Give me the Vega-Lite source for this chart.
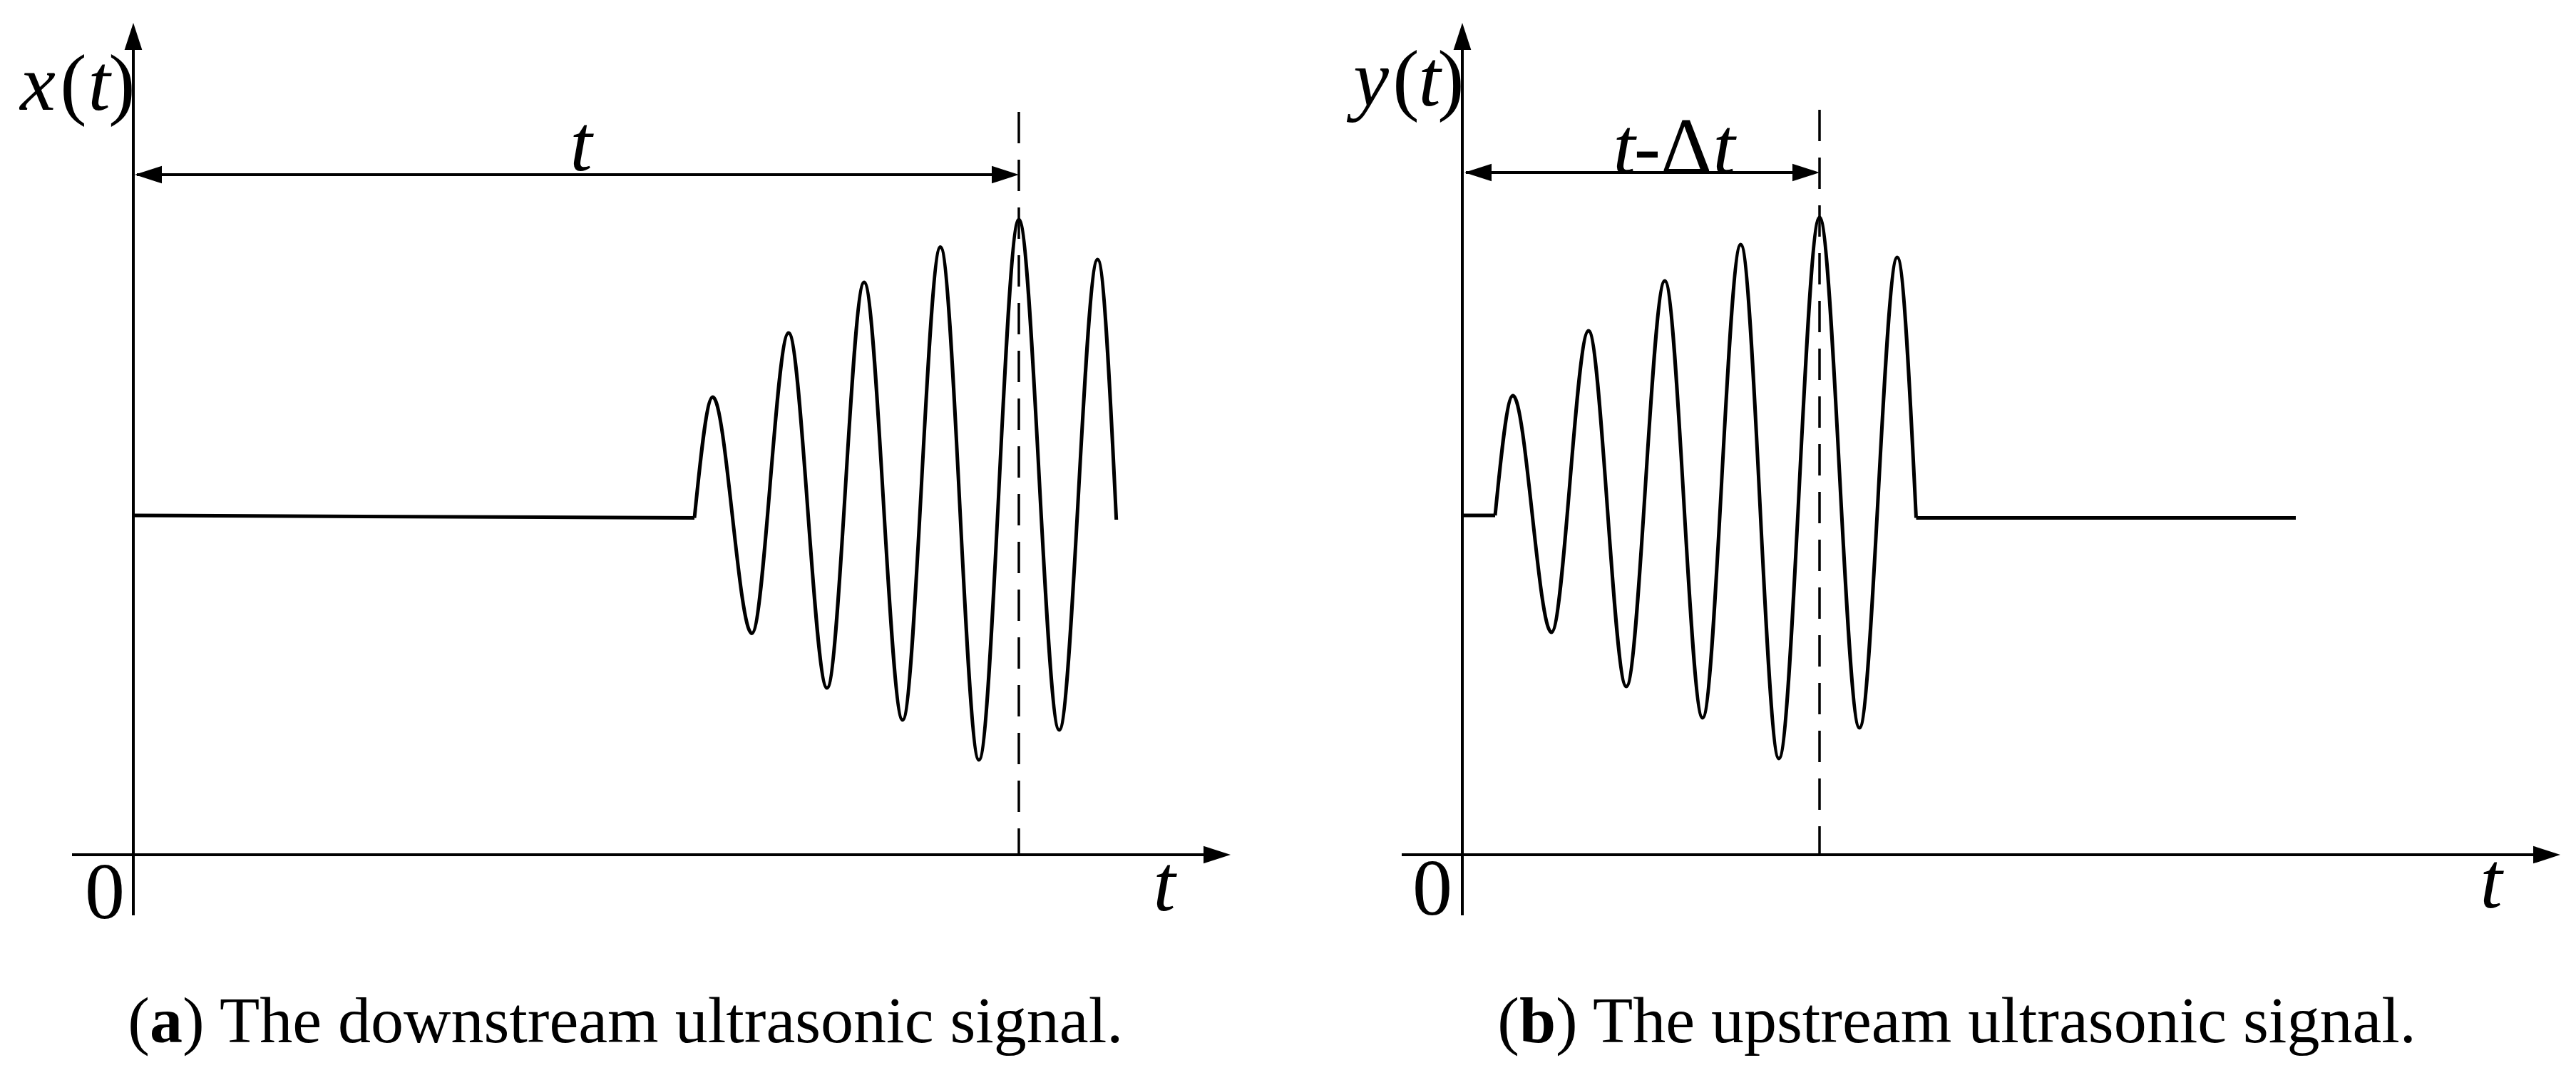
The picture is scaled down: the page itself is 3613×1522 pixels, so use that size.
{
  "$schema": "https://vega.github.io/schema/vega-lite/v6.json",
  "padding": 0,
  "background": "white",
  "spacing": 115,
  "bounds": "flush",
  "config": {"view": {"stroke": null}},
  "data": {
    "values": [
      {"panel": "a", "kind": "base", "s": "a1", "t": 0, "a": 47.6},
      {"panel": "a", "kind": "base", "s": "a1", "t": 78.7, "a": 47.25},
      {"panel": "a", "kind": "wave", "s": "aw", "t": 78.7, "a": 47.25},
      {"panel": "a", "kind": "wave", "s": "aw", "t": 81.27, "a": 64.2},
      {"panel": "a", "kind": "wave", "s": "aw", "t": 86.75, "a": 31.05},
      {"panel": "a", "kind": "wave", "s": "aw", "t": 91.9, "a": 73.2},
      {"panel": "a", "kind": "wave", "s": "aw", "t": 97.3, "a": 23.4},
      {"panel": "a", "kind": "wave", "s": "aw", "t": 102.5, "a": 80.3},
      {"panel": "a", "kind": "wave", "s": "aw", "t": 107.9, "a": 18.9},
      {"panel": "a", "kind": "wave", "s": "aw", "t": 113.2, "a": 85.25},
      {"panel": "a", "kind": "wave", "s": "aw", "t": 118.6, "a": 13.3},
      {"panel": "a", "kind": "wave", "s": "aw", "t": 124.2, "a": 89.1},
      {"panel": "a", "kind": "wave", "s": "aw", "t": 129.86, "a": 17.5},
      {"panel": "a", "kind": "wave", "s": "aw", "t": 135.25, "a": 83.5},
      {"panel": "a", "kind": "wave", "s": "aw", "t": 137.87, "a": 47.0},

      {"panel": "b", "kind": "base", "s": "b1", "t": 0, "a": 47.6},
      {"panel": "b", "kind": "base", "s": "b1", "t": 4.6, "a": 47.6},
      {"panel": "b", "kind": "wave", "s": "bw", "t": 4.6, "a": 47.6},
      {"panel": "b", "kind": "wave", "s": "bw", "t": 7.1, "a": 64.4},
      {"panel": "b", "kind": "wave", "s": "bw", "t": 12.5, "a": 31.2},
      {"panel": "b", "kind": "wave", "s": "bw", "t": 17.7, "a": 73.5},
      {"panel": "b", "kind": "wave", "s": "bw", "t": 23.0, "a": 23.6},
      {"panel": "b", "kind": "wave", "s": "bw", "t": 28.4, "a": 80.5},
      {"panel": "b", "kind": "wave", "s": "bw", "t": 33.7, "a": 19.2},
      {"panel": "b", "kind": "wave", "s": "bw", "t": 39.05, "a": 85.6},
      {"panel": "b", "kind": "wave", "s": "bw", "t": 44.4, "a": 13.5},
      {"panel": "b", "kind": "wave", "s": "bw", "t": 50.1, "a": 89.4},
      {"panel": "b", "kind": "wave", "s": "bw", "t": 55.7, "a": 17.8},
      {"panel": "b", "kind": "wave", "s": "bw", "t": 61.0, "a": 83.8},
      {"panel": "b", "kind": "wave", "s": "bw", "t": 63.65, "a": 47.25},
      {"panel": "b", "kind": "base", "s": "b2", "t": 63.65, "a": 47.25},
      {"panel": "b", "kind": "base", "s": "b2", "t": 116.9, "a": 47.25},

      {"panel": "a", "kind": "axis", "t": 0, "t2": 0, "a": -8.5, "a2": 114.5},
      {"panel": "a", "kind": "axis", "t": -8.6, "t2": 152, "a": 0, "a2": 0},
      {"panel": "b", "kind": "axis", "t": 0, "t2": 0, "a": -8.5, "a2": 114.5},
      {"panel": "b", "kind": "axis", "t": -8.5, "t2": 152, "a": 0, "a2": 0},
      {"panel": "a", "kind": "dim", "t": 0.5, "t2": 122.5, "a": 95.4, "a2": 95.4},
      {"panel": "b", "kind": "dim", "t": 0.5, "t2": 48.5, "a": 95.7, "a2": 95.7},
      {"panel": "a", "kind": "dash", "t": 124.2, "t2": 124.2, "a": 104.2, "a2": 0},
      {"panel": "b", "kind": "dash", "t": 50.1, "t2": 50.1, "a": 104.5, "a2": 0},

      {"panel": "a", "kind": "arrow", "dir": "up", "t": 0, "a": 116.7},
      {"panel": "a", "kind": "arrow", "dir": "right", "t": 153.9, "a": 0},
      {"panel": "a", "kind": "arrow", "dir": "left", "t": 0.2, "a": 95.4},
      {"panel": "a", "kind": "arrow", "dir": "right", "t": 124.2, "a": 95.4},
      {"panel": "b", "kind": "arrow", "dir": "up", "t": 0, "a": 116.7},
      {"panel": "b", "kind": "arrow", "dir": "right", "t": 154.0, "a": 0},
      {"panel": "b", "kind": "arrow", "dir": "left", "t": 0.3, "a": 95.7},
      {"panel": "b", "kind": "arrow", "dir": "right", "t": 50.1, "a": 95.7},

      {"panel": "a", "kind": "it", "label": "x", "t": -13.4, "a": 104.5},
      {"panel": "a", "kind": "up", "label": "(", "t": -8.4, "a": 104.5},
      {"panel": "a", "kind": "it", "label": "t", "t": -4.8, "a": 104.5},
      {"panel": "a", "kind": "up", "label": ")", "t": -1.6, "a": 104.5},
      {"panel": "a", "kind": "it", "label": "t", "t": 62.8, "a": 96.0},
      {"panel": "a", "kind": "up", "label": "0", "t": -4.0, "a": -8.9},
      {"panel": "a", "kind": "it", "label": "t", "t": 144.6, "a": -7.8},

      {"panel": "b", "kind": "it", "label": "y", "t": -12.8, "a": 105.1},
      {"panel": "b", "kind": "up", "label": "(", "t": -7.9, "a": 105.1},
      {"panel": "b", "kind": "it", "label": "t", "t": -4.6, "a": 105.1},
      {"panel": "b", "kind": "up", "label": ")", "t": -1.6, "a": 105.1},
      {"panel": "b", "kind": "it", "label": "t", "t": 22.7, "a": 95.6},
      {"panel": "b", "kind": "up", "label": "-Δ", "t": 29.55, "a": 95.6},
      {"panel": "b", "kind": "it", "label": "t", "t": 36.7, "a": 95.6},
      {"panel": "b", "kind": "up", "label": "0", "t": -4.2, "a": -8.4},
      {"panel": "b", "kind": "it", "label": "t", "t": 144.3, "a": -7.4},

      {"panel": "a", "kind": "cap_open", "label": "(", "t": 2.3, "a": -26.3},
      {"panel": "a", "kind": "cap_bold", "label": "a", "t": 2.3, "a": -26.3},
      {"panel": "a", "kind": "cap_rest", "label": ") The downstream ultrasonic signal.", "t": 6.9, "a": -26.3},
      {"panel": "b", "kind": "cap_open", "label": "(", "t": 8.0, "a": -26.3},
      {"panel": "b", "kind": "cap_bold", "label": "b", "t": 8.0, "a": -26.3},
      {"panel": "b", "kind": "cap_rest", "label": ") The upstream ultrasonic signal.", "t": 13.1, "a": -26.3}
    ]
  },
  "facet": {"column": {"field": "panel", "type": "nominal", "header": null}},
  "spec": {
    "width": 1749,
    "height": 1522,
    "encoding": {
      "x": {"field": "t", "type": "quantitative", "scale": {"domain": [-18.7, 156.2], "nice": false, "zero": false}, "axis": null},
      "y": {"field": "a", "type": "quantitative", "scale": {"domain": [-32.3, 119.9], "nice": false, "zero": false}, "axis": null}
    },
    "layer": [
      {
        "transform": [{"filter": "datum.kind === 'axis'"}],
        "mark": {"type": "rule", "color": "black", "strokeWidth": 4},
        "encoding": {"x2": {"field": "t2"}, "y2": {"field": "a2"}}
      },
      {
        "transform": [{"filter": "datum.kind === 'dim'"}],
        "mark": {"type": "rule", "color": "black", "strokeWidth": 4},
        "encoding": {"x2": {"field": "t2"}, "y2": {"field": "a2"}}
      },
      {
        "transform": [{"filter": "datum.kind === 'dash'"}],
        "mark": {"type": "rule", "color": "black", "strokeWidth": 3.5, "strokeDash": [44, 23]},
        "encoding": {"x2": {"field": "t2"}, "y2": {"field": "a2"}}
      },
      {
        "transform": [{"filter": "datum.kind === 'base'"}],
        "mark": {"type": "line", "color": "black", "strokeWidth": 5, "interpolate": "linear"},
        "encoding": {"detail": {"field": "s", "type": "nominal"}}
      },
      {
        "transform": [{"filter": "datum.kind === 'wave'"}],
        "mark": {"type": "line", "color": "black", "strokeWidth": 5, "interpolate": "monotone"},
        "encoding": {"detail": {"field": "s", "type": "nominal"}}
      },
      {
        "transform": [{"filter": "datum.kind === 'arrow'"}],
        "mark": {"type": "point", "filled": true, "size": 1444, "color": "black", "opacity": 1, "strokeWidth": 0},
        "encoding": {
          "shape": {
            "field": "dir", "type": "nominal",
            "scale": {"domain": ["up", "right", "left"], "range": ["M0,0 L-0.65,2 L0.65,2 Z", "M0,0 L-2,-0.65 L-2,0.65 Z", "M0,0 L2,-0.65 L2,0.65 Z"]},
            "legend": null
          }
        }
      },
      {
        "transform": [{"filter": "datum.kind === 'it'"}],
        "mark": {"type": "text", "font": "Liberation Serif", "fontSize": 112, "fontStyle": "italic", "align": "center", "baseline": "alphabetic", "color": "black"},
        "encoding": {"text": {"field": "label"}}
      },
      {
        "transform": [{"filter": "datum.kind === 'up'"}],
        "mark": {"type": "text", "font": "Liberation Serif", "fontSize": 112, "align": "center", "baseline": "alphabetic", "color": "black"},
        "encoding": {"text": {"field": "label"}}
      },
      {
        "transform": [{"filter": "datum.kind === 'cap_open'"}],
        "mark": {"type": "text", "font": "Liberation Serif", "fontSize": 92, "align": "right", "baseline": "alphabetic", "color": "black"},
        "encoding": {"text": {"field": "label"}}
      },
      {
        "transform": [{"filter": "datum.kind === 'cap_bold'"}],
        "mark": {"type": "text", "font": "Liberation Serif", "fontSize": 92, "fontWeight": "bold", "align": "left", "baseline": "alphabetic", "color": "black"},
        "encoding": {"text": {"field": "label"}}
      },
      {
        "transform": [{"filter": "datum.kind === 'cap_rest'"}],
        "mark": {"type": "text", "font": "Liberation Serif", "fontSize": 92, "align": "left", "baseline": "alphabetic", "color": "black"},
        "encoding": {"text": {"field": "label"}}
      }
    ]
  }
}
